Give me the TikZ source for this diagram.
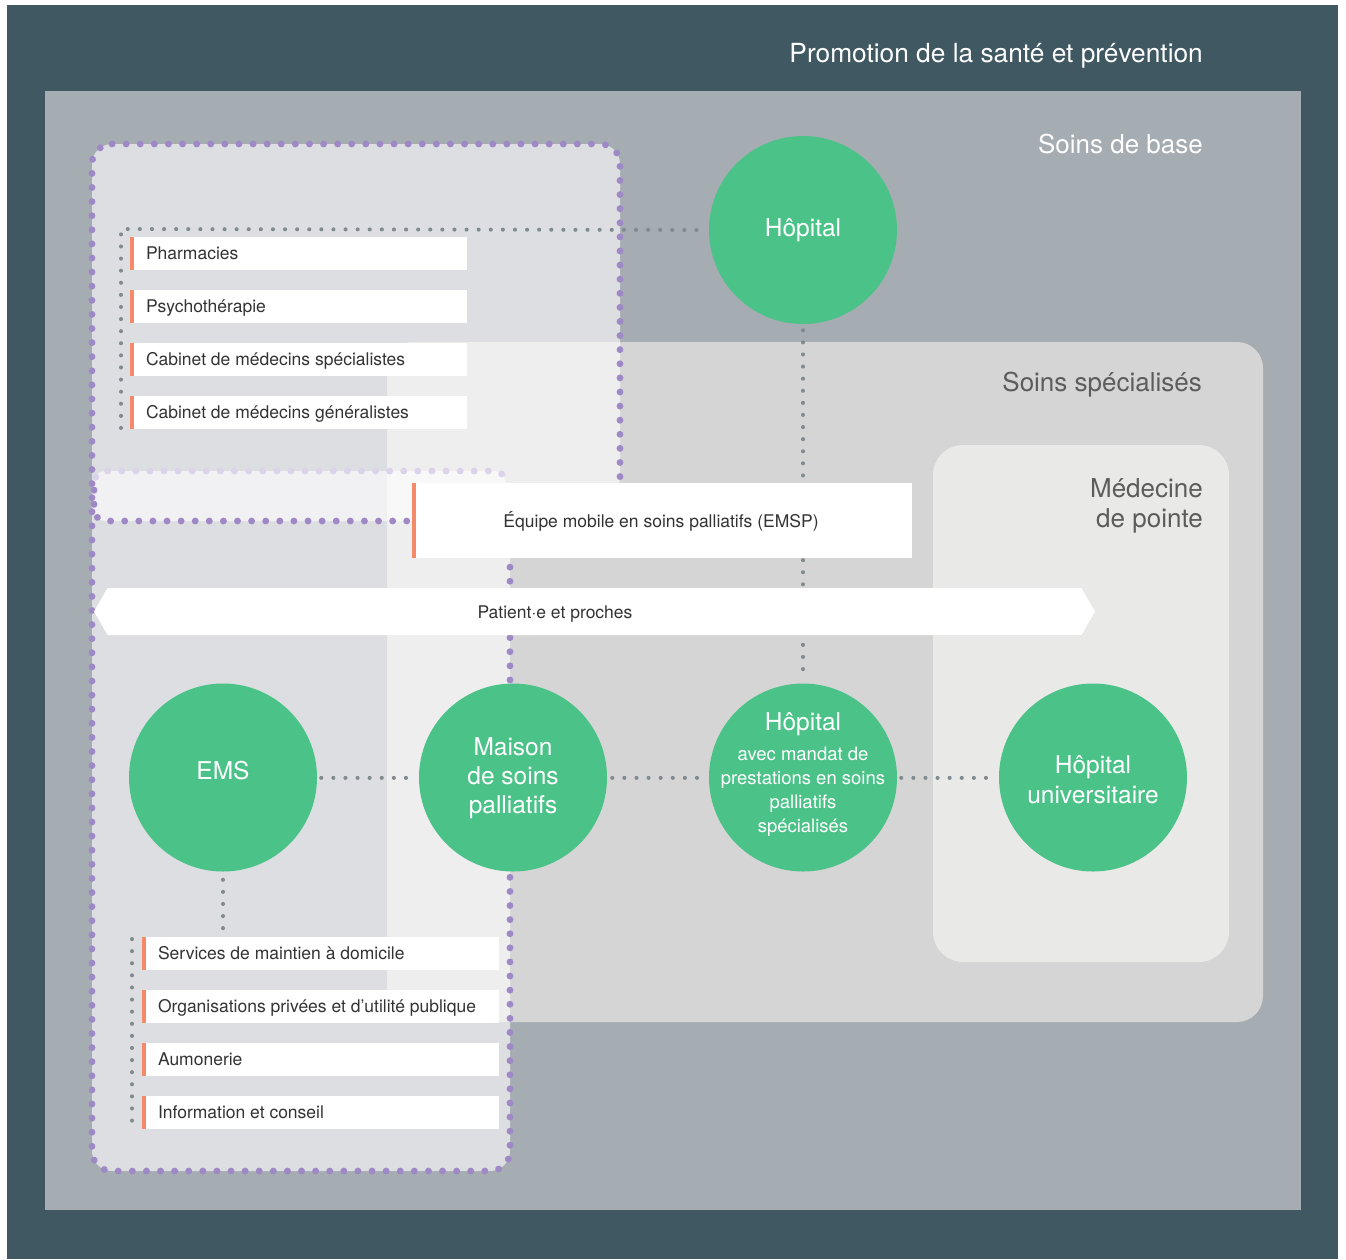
\documentclass[tikz,border=0pt]{standalone}
\usepackage{fontspec}
\setmainfont{TeX Gyre Heros}
\usetikzlibrary{shapes.symbols}
\definecolor{darkbg}{HTML}{3F5862}
\definecolor{greyarea}{HTML}{A5ACB2}
\definecolor{specbg}{HTML}{D5D5D5}
\definecolor{pointebg}{HTML}{E9E9E7}
\definecolor{gr}{HTML}{4BC288}
\definecolor{orng}{HTML}{F58A6A}
\definecolor{purp}{HTML}{9E89C6}
\definecolor{lpurp}{HTML}{DAD3EA}
\definecolor{gdot}{HTML}{818A8F}
\definecolor{txt}{HTML}{333333}
\definecolor{lbl}{HTML}{5C5C5C}
\newcommand{\smf}{\fontsize{18.5}{24}\selectfont}
\tikzset{
  pdots/.style={draw=purp, line width=6.8pt, line cap=round, dash pattern=on 0.1pt off 14pt},
  lpdots/.style={pdots, draw=lpurp},
  gdots/.style={draw=gdot, line width=4pt, line cap=round, dash pattern=on 0.1pt off 12pt},
  circ/.style={circle, fill=gr, minimum size=188pt, inner sep=0pt},
  ctext/.style={text=white, align=center, font=\fontsize{24.5}{29}\selectfont, inner sep=0pt},
  orangebar/.style={path picture={\fill[orng] (path picture bounding box.north west) rectangle ([xshift=3.5pt]path picture bounding box.south west);}},
  itembox/.style={fill=white, minimum height=33pt, inner xsep=16pt, inner ysep=0pt,
    text height=12.6pt, text depth=0pt, text=txt, font=\fontsize{17.5}{21}\selectfont, orangebar},
  smalltext/.style={text=txt, font=\fontsize{17.5}{21}\selectfont, text height=12.6pt, text depth=0pt, inner sep=0pt},
}
\begin{document}
\begin{tikzpicture}[x=1pt,y=-1pt]
\useasboundingbox (0,0) rectangle (1346,1259);
% backgrounds
\fill[white] (0,0) rectangle (1346,1259);
\fill[darkbg] (7,5) rectangle (1338,1259);
\fill[greyarea] (45,91) rectangle (1301,1210);
\fill[specbg, rounded corners=26pt] (387,342) rectangle (1263,1022);
\fill[pointebg, rounded corners=30pt] (933,445) rectangle (1229,962);
% purple region
\fill[white, opacity=0.61, rounded corners=20pt] (92,144) -- (620,144) -- (620,497) -- (510,497) -- (510,1171) -- (92,1171) -- cycle;
\fill[white, opacity=0.6, rounded corners=12pt] (93,471) rectangle (506,521);
\draw[pdots, rounded corners=20pt] (92,144) -- (620,144) -- (620,497) -- (510,497) -- (510,1171) -- (92,1171) -- cycle;
\draw[lpdots, rounded corners=12pt] (94,505) |- (506,471) -- (506,515);
\draw[pdots, rounded corners=12pt] (94,490) |- (410,521);
% labels
\node[anchor=east, text=white, font=\fontsize{26.3}{30}\selectfont, inner sep=0pt] (promo) at (1203,56) {Promotion de la santé et prévention};
\node[anchor=east, text=white, font=\fontsize{26}{30}\selectfont, inner sep=0pt] (base) at (1203,144) {Soins de base};
\node[anchor=east, text=lbl, font=\fontsize{26}{30}\selectfont, inner sep=0pt] (spec) at (1202,385) {Soins spécialisés};
\node[anchor=east, align=right, text=lbl, font=\fontsize{26}{30}\selectfont, inner sep=0pt] (pointe) at (1203,506) {Médecine\\de pointe};
% circles
\node[circ] (hop) at (803,230) {};
\node[circ] (ems) at (223,777.5) {};
\node[circ] (mais) at (513,777.5) {};
\node[circ] (hopm) at (803,777.5) {};
\node[circ] (univ) at (1093,777.5) {};
% connectors
\coordinate (ltop) at (121,229);
\coordinate (lbot) at (121,428);
\coordinate (emsend) at (223,930);
\coordinate (btop) at (132,939);
\coordinate (bbot) at (132,1128);
\draw[gdots] (lbot) -- (ltop) -- ([xshift=-4pt]hop.west);
\draw[gdots, shorten <=6pt, shorten >=6pt] (hop.south) -- (hopm.north);
\draw[gdots, shorten <=4pt, shorten >=3pt] (ems.east) -- (mais.west);
\draw[gdots, shorten <=5pt, shorten >=4pt] (mais.east) -- (hopm.west);
\draw[gdots, shorten <=4pt, shorten >=3pt] (hopm.east) -- (univ.west);
\draw[gdots, shorten <=8pt] (ems.south) -- (emsend);
\draw[gdots] (btop) -- (bbot);
% circle texts
\node[ctext] (hopt) at (803,230) {Hôpital};
\node[ctext] (emst) at (223,771) {EMS};
\node[ctext] (maist) at (513,778) {Maison\\de soins\\palliatifs};
\node[ctext] (hopmt) at (803,774.5) {Hôpital\\[1pt]\smf avec mandat de\\[-5pt]\smf prestations en soins\\[-5pt]\smf palliatifs\\[-5pt]\smf spécialisés};
\node[ctext, font=\fontsize{24.5}{30}\selectfont] (univt) at (1093,780) {Hôpital\\universitaire};
% top list
\node[itembox] (l1) at (298.5,253.5) {\makebox[305pt][l]{Pharmacies}};
\node[itembox] (l2) at (298.5,306.5) {\makebox[305pt][l]{Psychothérapie}};
\node[itembox] (l3) at (298.5,359.5) {\makebox[305pt][l]{Cabinet de médecins spécialistes}};
\node[itembox] (l4) at (298.5,412.5) {\makebox[305pt][l]{Cabinet de médecins généralistes}};
% bottom list
\node[itembox] (b1) at (320.5,953.5) {\makebox[325pt][l]{Services de maintien à domicile}};
\node[itembox] (b2) at (320.5,1006.5) {\makebox[325pt][l]{Organisations privées et d’utilité publique}};
\node[itembox] (b3) at (320.5,1059.5) {\makebox[325pt][l]{Aumonerie}};
\node[itembox] (b4) at (320.5,1112.5) {\makebox[325pt][l]{Information et conseil}};
% EMSP
\node[fill=white, minimum width=500pt, minimum height=75pt, inner sep=0pt, orangebar] (emsp) at (662,520.5) {};
\node[smalltext] (emspt) at (661,521) {Équipe mobile en soins palliatifs (EMSP)};
% patient arrow
\node[signal, signal to=west and east, signal pointer angle=120, fill=white, minimum width=1001pt, minimum height=47pt, inner sep=0pt] (pat) at (594.5,611.5) {};
\node[smalltext] (patt) at (555,612) {Patient·e et proches};
\end{tikzpicture}
\end{document}
